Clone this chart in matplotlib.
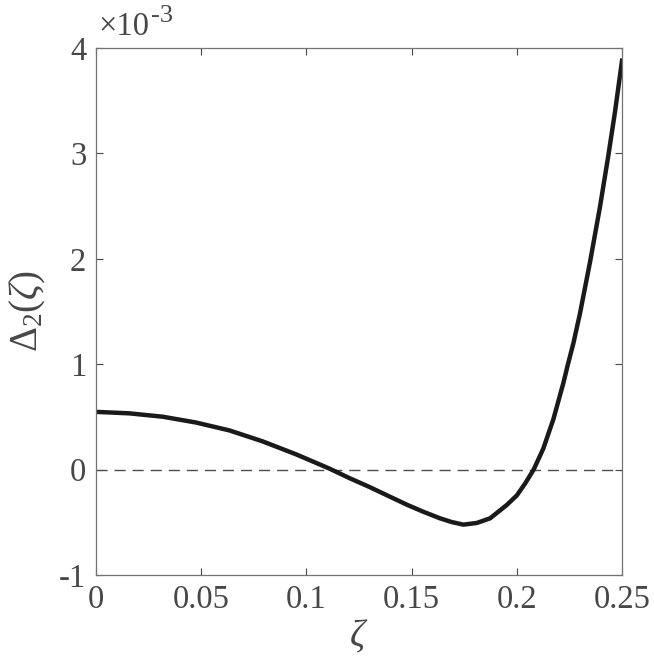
import matplotlib
matplotlib.use('Agg')
from matplotlib import pyplot as plt

#### data (values of Delta_2 read in units of 1e-3) ####
zeta = [0.000, 0.0158, 0.0317, 0.0475, 0.0634, 0.0792, 0.0951, 0.1109,
        0.1204, 0.1300, 0.1397, 0.148, 0.1556, 0.1635, 0.169, 0.1746,
        0.181, 0.1873, 0.1952, 0.2000, 0.2040, 0.2080, 0.2126, 0.2174,
        0.2221, 0.2243, 0.2269, 0.2300, 0.2348, 0.2395, 0.2435, 0.2467,
        0.2500]
delta2 = [0.548, 0.534, 0.502, 0.447, 0.372, 0.268, 0.145, 0.010,
          -0.080, -0.165, -0.257, -0.335, -0.400, -0.462, -0.497, -0.522,
          -0.506, -0.462, -0.336, -0.245, -0.130, 0.000, 0.200, 0.480,
          0.820, 1.000, 1.200, 1.480, 1.970, 2.490, 2.980, 3.400,
          3.880]
xticks = [0, 0.05, 0.1, 0.15, 0.2, 0.25]
xlabels = ['0', '0.05', '0.1', '0.15', '0.2', '0.25']
yticks = [-1, 0, 1, 2, 3, 4]
ylabels = ['-1', '0', '1', '2', '3', '4']

plt.rcParams['font.family'] = 'Liberation Serif'
plt.rcParams['mathtext.fontset'] = 'custom'
plt.rcParams['mathtext.rm'] = 'Liberation Serif'
plt.rcParams['mathtext.it'] = 'Liberation Serif:italic'

grey = (0.28, 0.28, 0.28)
fig = plt.figure(figsize=(6.54, 6.66), dpi=100)
ax = fig.add_axes([0.1468, 0.1366, 0.8043, 0.7913])

ax.axhline(0, color=(0.3, 0.3, 0.3), lw=1.0, dashes=(8, 5))
ax.plot(zeta, delta2, color=(0.1, 0.1, 0.1), lw=3.2, solid_joinstyle='round')

ax.set_xlim(0, 0.25)
ax.set_ylim(-1, 4)
ax.set_xticks(xticks)
ax.set_xticklabels(xlabels)
ax.set_yticks(yticks)
ax.set_yticklabels(ylabels)
ax.tick_params(direction='in', length=5, width=0.8, colors=grey,
               labelsize=23.5, top=True, right=True, pad=7)
for s in ax.spines.values():
    s.set_color((0.45, 0.45, 0.45))
    s.set_linewidth(0.9)

ax.set_xlabel(r'$\zeta$', fontsize=27, color=grey, labelpad=2)
ax.set_ylabel(r'$\Delta_2(\zeta)$', fontsize=28, color=grey, labelpad=8)
ax.text(0.005, 1.011, '×10', transform=ax.transAxes,
        fontsize=23.5, color=grey, ha='left', va='bottom')
ax.text(0.104, 1.040, '-3', transform=ax.transAxes,
        fontsize=19, color=grey, ha='left', va='bottom')

fig.savefig('out.png', dpi=100)
